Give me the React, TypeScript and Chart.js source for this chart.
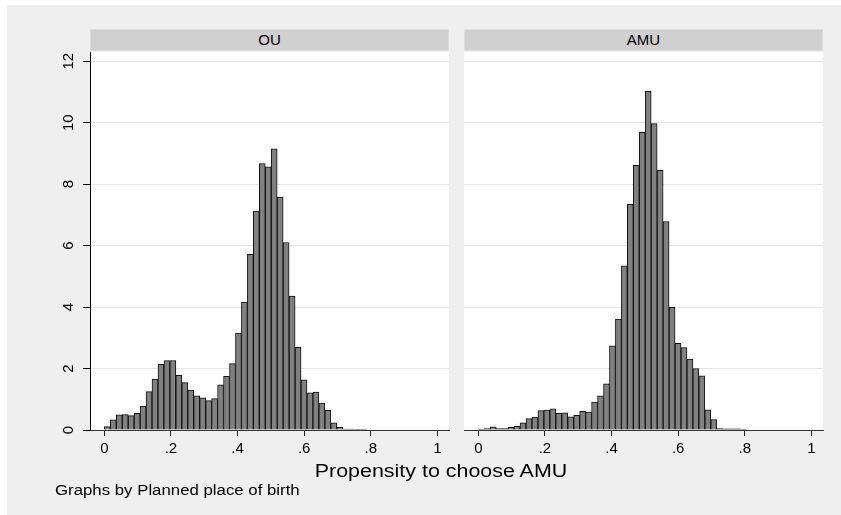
import React, { useEffect, useRef } from "react";
import { Chart, registerables } from "chart.js";

Chart.register(...registerables);

// ---- data ----
const PANELS = ["OU", "AMU"];
const BIN_START = 0;
const BIN_WIDTH = 0.0179;
const OU_DENSITY = [
  0.11, 0.33, 0.49, 0.5, 0.47, 0.54, 0.78, 1.25, 1.66, 2.14, 2.26, 2.26, 1.78, 1.54, 1.3, 1.11,
  1.05, 0.96, 1.02, 1.47, 1.75, 2.16, 3.15, 4.16, 5.72, 7.12, 8.67, 8.56, 9.15, 7.58, 6.1, 4.36,
  2.69, 1.63, 1.21, 1.23, 0.88, 0.64, 0.23, 0.09, 0.03, 0.03, 0.02, 0.03,
];
const AMU_DENSITY = [
  0.03, 0.05, 0.1, 0.05, 0.05, 0.09, 0.12, 0.23, 0.37, 0.42, 0.63, 0.65, 0.69, 0.54, 0.56, 0.43,
  0.48, 0.61, 0.58, 0.91, 1.11, 1.5, 2.74, 3.61, 5.34, 7.34, 8.61, 9.69, 11.02, 9.97, 8.45, 6.78,
  3.99, 2.82, 2.68, 2.31, 2.0, 1.76, 0.66, 0.34, 0.05, 0.04, 0.04, 0.04, 0.03,
];
const X_TICKS = [0, 0.2, 0.4, 0.6, 0.8, 1];
const X_TICK_LABELS = ["0", ".2", ".4", ".6", ".8", "1"];
const Y_TICKS = [0, 2, 4, 6, 8, 10, 12];
const Y_TICK_LABELS = ["0", "2", "4", "6", "8", "10", "12"];
const X_TITLE = "Propensity to choose AMU";
const NOTE = "Graphs by Planned place of birth";

const FONT = "'Liberation Sans', Arial, Helvetica, sans-serif";
const W = 841;
const H = 515;

const plotBg = {
  id: "plotBg",
  beforeDraw(chart: any) {
    const { ctx, chartArea: a } = chart;
    ctx.save();
    ctx.fillStyle = "#ffffff";
    ctx.fillRect(a.left, a.top, a.right - a.left, a.bottom - a.top);
    ctx.restore();
  },
};

function Panel(props: {
  values: number[];
  showY: boolean;
  left: number;
  width: number;
  padLeft: number;
  padRight: number;
}) {
  const ref = useRef<HTMLCanvasElement | null>(null);
  useEffect(() => {
    if (!ref.current) return;
    const pts = props.values.map((v, i) => ({ x: BIN_START + BIN_WIDTH * (i + 0.5), y: v }));
    const chart = new Chart(ref.current, {
      type: "bar",
      data: {
        datasets: [
          {
            data: pts as any,
            backgroundColor: "#808080",
            borderColor: "#111111",
            borderWidth: 1,
            borderSkipped: "bottom",
            barPercentage: 1,
            categoryPercentage: 1,
            grouped: false,
          } as any,
        ],
      },
      plugins: [plotBg],
      options: {
        animation: false,
        responsive: false,
        devicePixelRatio: 1,
        events: [],
        layout: { padding: { left: props.padLeft, right: props.padRight, top: 52, bottom: 0 } },
        plugins: { legend: { display: false }, tooltip: { enabled: false }, title: { display: false } },
        scales: {
          x: {
            type: "linear",
            offset: false,
            min: -0.043,
            max: 1.035,
            afterBuildTicks: (s: any) => {
              s.ticks = X_TICKS.map((v) => ({ value: v }));
            },
            afterFit: (s: any) => {
              s.height = 85;
            },
            grid: {
              offset: false,
              drawOnChartArea: false,
              tickLength: 6,
              tickColor: "#222222",
              color: "#222222",
            },
            border: { display: true, color: "#333333", width: 1 },
            ticks: {
              autoSkip: false,
              includeBounds: false,
              maxRotation: 0,
              minRotation: 0,
              padding: 4,
              color: "#000000",
              font: { family: FONT, size: 15 },
              callback: (v: any) => X_TICK_LABELS[X_TICKS.indexOf(Math.round(Number(v) * 10) / 10)],
            },
          },
          y: {
            type: "linear",
            min: 0,
            max: 12.3,
            afterBuildTicks: (s: any) => {
              s.ticks = Y_TICKS.map((v) => ({ value: v }));
            },
            afterFit: (s: any) => {
              s.width = props.showY ? 90 : 0;
            },
            grid: {
              color: "#e6e6e6",
              tickColor: "#000000",
              tickLength: 7,
              drawTicks: props.showY,
            },
            border: { display: props.showY, color: "#000000", width: 1 },
            ticks: {
              display: props.showY,
              autoSkip: false,
              includeBounds: false,
              minRotation: 90,
              maxRotation: 90,
              crossAlign: "center",
              padding: 6,
              color: "#000000",
              font: { family: FONT, size: 15 },
              callback: (v: any) => Y_TICK_LABELS[Y_TICKS.indexOf(Number(v))],
            },
          },
        },
      } as any,
    });
    return () => chart.destroy();
  }, []);
  return (
    <canvas
      ref={ref}
      width={props.width}
      height={H}
      style={{ position: "absolute", left: props.left, top: 0, width: props.width, height: H }}
    />
  );
}

export default function App() {
  const header = (left: number, text: string) => (
    <div
      style={{
        position: "absolute",
        left,
        top: 29,
        width: 359,
        height: 22,
        boxSizing: "border-box",
        background: "#d0d0d0",
        border: "1px solid #d8e0e2",
        font: `15px ${FONT}`,
        lineHeight: "20px",
        textAlign: "center",
        color: "#000",
      }}
    >
      {text}
    </div>
  );
  return (
    <div
      style={{
        position: "fixed",
        left: 0,
        top: 0,
        width: W,
        height: H,
        background: "#ffffff",
        overflow: "hidden",
      }}
    >
      <div
        style={{ position: "absolute", left: 7, top: 5, right: 0, bottom: 0, background: "#efefef" }}
      />
      {header(90, PANELS[0])}
      {header(464, PANELS[1])}
      <Panel values={OU_DENSITY} showY={true} left={0} width={456} padLeft={0} padRight={7} />
      <Panel values={AMU_DENSITY} showY={false} left={456} width={385} padLeft={8} padRight={18} />
      <div
        style={{
          position: "absolute",
          left: 241,
          width: 400,
          top: 460,
          textAlign: "center",
          font: `18px ${FONT}`,
          lineHeight: "22px",
          color: "#000",
          transform: "scaleX(1.19)",
          transformOrigin: "50% 50%",
        }}
      >
        {X_TITLE}
      </div>
      <div
        style={{
          position: "absolute",
          left: 55,
          top: 482,
          font: `14px ${FONT}`,
          lineHeight: "16px",
          color: "#000",
          whiteSpace: "nowrap",
          transform: "scaleX(1.2)",
          transformOrigin: "0 50%",
        }}
      >
        {NOTE}
      </div>
    </div>
  );
}
